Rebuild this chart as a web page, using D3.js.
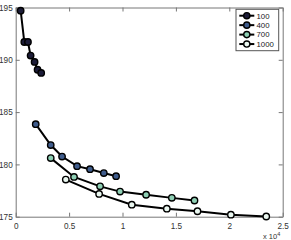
<!DOCTYPE html>
<html>
<head>
<meta charset="utf-8">
<script src="https://cdn.jsdelivr.net/npm/d3@7"></script>
<style>
body { margin: 0; background: #fff; }
svg { display: block; font-family: "Liberation Sans", Arial, sans-serif; }
</style>
</head>
<body>
<div id="graph"></div>
<script>
// series data (x in raw units, plotted /1e4 like matlab)
var seriesNames = ["100", "400", "700", "1000"];
var seriesColors = ["#1c1c38", "#3f5c8c", "#8ecfb4", "#eaf7f0"];

var x100 = [465, 806, 1148, 1396, 1768, 2047, 2388];
var y100 = [194.7, 191.7, 191.7, 190.4, 189.8, 189.05, 188.75];

var x400 = [1875, 3280, 4340, 5745, 6960, 8250, 9400];
var y400 = [183.85, 181.85, 180.75, 179.83, 179.54, 179.17, 178.87];

var x700 = [3280, 5460, 7900, 9770, 12210, 14620, 16740];
var y700 = [180.6, 178.8, 177.9, 177.4, 177.1, 176.8, 176.55];

var x1000 = [4690, 7810, 10870, 14150, 17020, 20150, 23460];
var y1000 = [178.55, 177.18, 176.15, 175.77, 175.52, 175.19, 175.02];

var xTicks = [0, 0.5, 1, 1.5, 2, 2.5];
var yTicks = [175, 180, 185, 190, 195];

var allX = [x100, x400, x700, x1000];
var allY = [y100, y400, y700, y1000];

var width = 291, height = 240;
var plotLeft = 15.7, plotRight = 282.7, plotTop = 7.5, plotBottom = 216.7;

var svg = d3.select('#graph').append('svg')
    .attr('width', width)
    .attr('height', height);

var scaleX = d3.scaleLinear().domain([0, 2.5]).range([plotLeft, plotRight]);
var scaleY = d3.scaleLinear().domain([175, 195]).range([plotBottom, plotTop]);

// axes box with inward ticks
var axisColor = "#777";
var bottomAxis = d3.axisBottom(scaleX).tickValues(xTicks).tickSizeInner(-4).tickSizeOuter(0).tickPadding(6)
    .tickFormat(d3.format("~g"));
var leftAxis = d3.axisLeft(scaleY).tickValues(yTicks).tickSizeInner(-4).tickSizeOuter(0).tickPadding(3);
var topAxis = d3.axisTop(scaleX).tickValues(xTicks).tickSizeInner(-4).tickSizeOuter(0).tickFormat("");
var rightAxis = d3.axisRight(scaleY).tickValues(yTicks).tickSizeInner(-4).tickSizeOuter(0).tickFormat("");

function styleAxis(g) {
    g.select(".domain").attr("stroke", axisColor).attr("stroke-width", 1);
    g.selectAll(".tick line").attr("stroke", axisColor);
    g.selectAll(".tick text").attr("fill", "#333").attr("font-size", 8.2)
        .attr("font-family", "Liberation Sans, Arial, sans-serif");
}

svg.append("g").attr("transform", "translate(0," + plotBottom + ")").call(bottomAxis).call(styleAxis);
svg.append("g").attr("transform", "translate(" + plotLeft + ",0)").call(leftAxis).call(styleAxis);
svg.append("g").attr("transform", "translate(0," + plotTop + ")").call(topAxis).call(styleAxis);
svg.append("g").attr("transform", "translate(" + plotRight + ",0)").call(rightAxis).call(styleAxis);

// exponent label
var expo = svg.append("text")
    .attr("x", 263)
    .attr("y", 238.5)
    .attr("font-size", 7.5)
    .attr("fill", "#333");
expo.append("tspan").text("x 10");
expo.append("tspan").attr("dy", -3).attr("font-size", 5.5).text("4");

var line = d3.line()
    .x(function(d) { return scaleX(d[0] / 1e4); })
    .y(function(d) { return scaleY(d[1]); });

for (var s = 0; s < allX.length; s++) {
    var pts = allX[s].map(function(v, i) { return [v, allY[s][i]]; });
    svg.append("path")
        .datum(pts)
        .attr("d", line)
        .attr("fill", "none")
        .attr("stroke", "#000")
        .attr("stroke-width", 2);
    svg.append("g")
        .selectAll("circle")
        .data(pts)
        .enter()
        .append("circle")
        .attr("cx", function(d) { return scaleX(d[0] / 1e4); })
        .attr("cy", function(d) { return scaleY(d[1]); })
        .attr("r", 3.2)
        .attr("fill", seriesColors[s])
        .attr("stroke", "#000")
        .attr("stroke-width", 1.4);
}

// legend
var legend = svg.append("g");
legend.append("rect")
    .attr("x", 236).attr("y", 9.3)
    .attr("width", 42.7).attr("height", 41.4)
    .attr("fill", "#fff").attr("stroke", "#555").attr("stroke-width", 1);
seriesNames.forEach(function(name, i) {
    var ly = 15.7 + i * 9.45;
    legend.append("line")
        .attr("x1", 239.3).attr("x2", 254.3)
        .attr("y1", ly).attr("y2", ly)
        .attr("stroke", "#000").attr("stroke-width", 2);
    legend.append("circle")
        .attr("cx", 246.8).attr("cy", ly).attr("r", 3.1)
        .attr("fill", seriesColors[i]).attr("stroke", "#000").attr("stroke-width", 1.4);
    legend.append("text")
        .attr("x", 256.5).attr("y", ly + 2.8)
        .attr("font-size", 7.8).attr("fill", "#222")
        .text(name);
});
</script>
</body>
</html>
